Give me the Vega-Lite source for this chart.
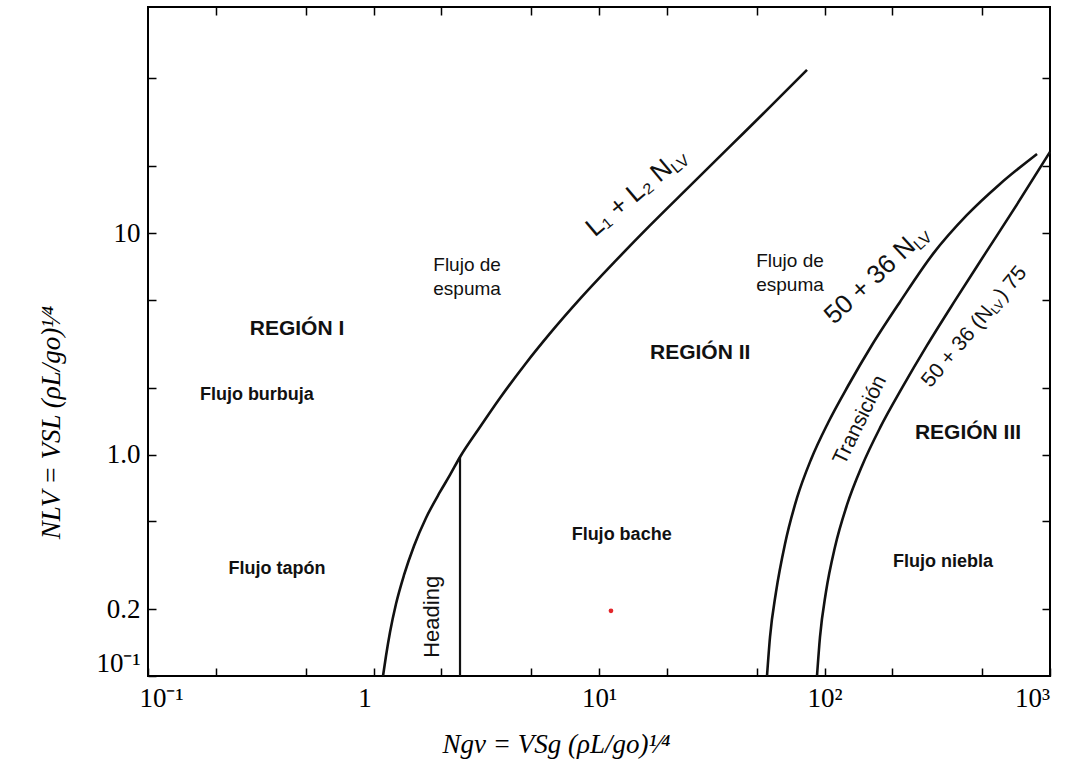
{
  "$schema": "https://vega.github.io/schema/vega-lite/v6.json",
  "width": 902,
  "height": 669,
  "autosize": {"type": "none"},
  "padding": {"left": 148, "top": 7, "right": 25, "bottom": 106},
  "background": "white",
  "config": {
    "view": {"stroke": "black", "strokeWidth": 2},
    "axis": {"domain": false, "grid": false, "tickColor": "black", "tickSize": -8, "tickWidth": 1.5, "labelColor": "black", "titleColor": "black"},
    "text": {"font": "Liberation Sans", "color": "#111"}
  },
  "resolve": {"axis": {"x": "independent", "y": "independent"}},
  "layer": [
    {
      "layer": [
        {
          "data": {"values": [
            {"c": "A", "i": 0, "x": 1.102, "y": 0.1},
            {"c": "A", "i": 1, "x": 1.136, "y": 0.1231},
            {"c": "A", "i": 2, "x": 1.184, "y": 0.158},
            {"c": "A", "i": 3, "x": 1.258, "y": 0.2114},
            {"c": "A", "i": 4, "x": 1.366, "y": 0.2859},
            {"c": "A", "i": 5, "x": 1.512, "y": 0.3866},
            {"c": "A", "i": 6, "x": 1.709, "y": 0.5171},
            {"c": "A", "i": 7, "x": 1.972, "y": 0.6777},
            {"c": "A", "i": 8, "x": 2.184, "y": 0.8089},
            {"c": "A", "i": 9, "x": 2.419, "y": 0.975},
            {"c": "A", "i": 10, "x": 2.967, "y": 1.332},
            {"c": "A", "i": 11, "x": 3.639, "y": 1.801},
            {"c": "A", "i": 12, "x": 4.697, "y": 2.553},
            {"c": "A", "i": 13, "x": 6.063, "y": 3.524},
            {"c": "A", "i": 14, "x": 8.236, "y": 5.045},
            {"c": "A", "i": 15, "x": 11.78, "y": 7.452},
            {"c": "A", "i": 16, "x": 16.84, "y": 10.83},
            {"c": "A", "i": 17, "x": 25.32, "y": 16.34},
            {"c": "A", "i": 18, "x": 38.10, "y": 24.64},
            {"c": "A", "i": 19, "x": 57.33, "y": 37.15},
            {"c": "A", "i": 20, "x": 83.64, "y": 54.6},
            {"c": "B", "i": 0, "x": 55.59, "y": 0.1},
            {"c": "B", "i": 1, "x": 57.33, "y": 0.150},
            {"c": "B", "i": 2, "x": 60.95, "y": 0.2395},
            {"c": "B", "i": 3, "x": 66.80, "y": 0.3947},
            {"c": "B", "i": 4, "x": 75.51, "y": 0.6368},
            {"c": "B", "i": 5, "x": 87.13, "y": 0.9504},
            {"c": "B", "i": 6, "x": 103.6, "y": 1.389},
            {"c": "B", "i": 7, "x": 127.1, "y": 2.040},
            {"c": "B", "i": 8, "x": 162.4, "y": 3.126},
            {"c": "B", "i": 9, "x": 216.1, "y": 4.891},
            {"c": "B", "i": 10, "x": 302.8, "y": 8.057},
            {"c": "B", "i": 11, "x": 428.5, "y": 12.08},
            {"c": "B", "i": 12, "x": 600.2, "y": 16.68},
            {"c": "B", "i": 13, "x": 875.9, "y": 22.79},
            {"c": "C", "i": 0, "x": 92.62, "y": 0.1},
            {"c": "C", "i": 1, "x": 95.50, "y": 0.150},
            {"c": "C", "i": 2, "x": 101.5, "y": 0.2395},
            {"c": "C", "i": 3, "x": 111.3, "y": 0.3826},
            {"c": "C", "i": 4, "x": 125.8, "y": 0.5922},
            {"c": "C", "i": 5, "x": 146.6, "y": 0.8883},
            {"c": "C", "i": 6, "x": 176.2, "y": 1.319},
            {"c": "C", "i": 7, "x": 220.7, "y": 1.999},
            {"c": "C", "i": 8, "x": 284.8, "y": 3.111},
            {"c": "C", "i": 9, "x": 379.0, "y": 4.956},
            {"c": "C", "i": 10, "x": 515.0, "y": 8.057},
            {"c": "C", "i": 11, "x": 714.1, "y": 13.48},
            {"c": "C", "i": 12, "x": 1000, "y": 23.27}
          ]},
          "mark": {"type": "line", "color": "#111", "strokeWidth": 2.6, "interpolate": "monotone"},
          "encoding": {
            "x": {"field": "x", "type": "quantitative", "scale": {"type": "log", "domain": [0.1, 1000], "nice": false},
              "axis": {
                "orient": "bottom",
                "values": [0.1, 0.2, 0.5, 1, 2, 5, 10, 20, 50, 100, 200, 500, 1000],
                "labelExpr": "datum.value == 0.1 ? '10⁻¹' : datum.value == 1 ? '1' : datum.value == 10 ? '10¹' : datum.value == 100 ? '10²' : datum.value == 1000 ? '10³' : ''",
                "labelOverlap": false,
                "labelFlush": false,
                "labelFont": "Liberation Serif",
                "labelFontSize": 27,
                "labelPadding": 17,
                "labelOffset": {"condition": [{"test": "datum.value == 0.1", "value": 13}, {"test": "datum.value == 1", "value": -9}, {"test": "datum.value == 1000", "value": -18}], "value": 0},
                "title": "Ngv  =  VSg (ρL/go)¹⁄⁴",
                "titleFont": "Liberation Serif",
                "titleFontStyle": "italic",
                "titleFontWeight": "normal",
                "titleFontSize": 27,
                "titlePadding": 20,
                "titleX": 408
              }
            },
            "y": {"field": "y", "type": "quantitative", "scale": {"type": "log", "domain": [0.1, 105], "nice": false},
              "axis": {
                "orient": "left",
                "values": [0.1, 0.2, 0.5, 1, 2, 5, 10, 20, 50],
                "labelExpr": "datum.value == 0.1 ? '10⁻¹' : datum.value == 0.2 ? '0.2' : datum.value == 1 ? '1.0' : datum.value == 10 ? '10' : ''",
                "labelOverlap": false,
                "labelFont": "Liberation Serif",
                "labelFontSize": 27,
                "labelPadding": 16,
                "labelOffset": {"condition": {"test": "datum.value == 0.1", "value": -13}, "value": 0},
                "title": "NLV  =  VSL (ρL/go)¹⁄⁴",
                "titleFont": "Liberation Serif",
                "titleFontStyle": "italic",
                "titleFontWeight": "normal",
                "titleFontSize": 27,
                "titlePadding": 30,
                "titleY": 415
              }
            },
            "detail": {"field": "c"},
            "order": {"field": "i", "type": "quantitative"}
          }
        },
        {
          "data": {"values": [{"x": 2.419, "y": 0.1, "y2": 0.975}]},
          "mark": {"type": "rule", "color": "#111", "strokeWidth": 2.2},
          "encoding": {
            "x": {"field": "x", "type": "quantitative"},
            "y": {"field": "y", "type": "quantitative"},
            "y2": {"field": "y2"}
          }
        },
        {
          "data": {"values": [
            {"t": "REGIÓN I", "x": 0.458, "y": 3.69},
            {"t": "REGIÓN II", "x": 28.1, "y": 2.88},
            {"t": "REGIÓN III", "x": 433, "y": 1.25}
          ]},
          "mark": {"type": "text", "fontSize": 21, "fontWeight": "bold", "baseline": "middle", "align": "center"},
          "encoding": {
            "x": {"field": "x", "type": "quantitative"},
            "y": {"field": "y", "type": "quantitative"},
            "text": {"field": "t"}
          }
        },
        {
          "data": {"values": [
            {"t": "Flujo burbuja", "x": 0.304, "y": 1.86},
            {"t": "Flujo tapón", "x": 0.373, "y": 0.304},
            {"t": "Flujo bache", "x": 12.6, "y": 0.434},
            {"t": "Flujo niebla", "x": 335, "y": 0.327}
          ]},
          "mark": {"type": "text", "fontSize": 18, "fontWeight": "bold", "baseline": "middle", "align": "center"},
          "encoding": {
            "x": {"field": "x", "type": "quantitative"},
            "y": {"field": "y", "type": "quantitative"},
            "text": {"field": "t"}
          }
        },
        {
          "data": {"values": [
            {"t": "Flujo de\nespuma", "x": 2.60, "y": 7.18},
            {"t": "Flujo de\nespuma", "x": 70.3, "y": 7.48}
          ]},
          "mark": {"type": "text", "fontSize": 19, "lineBreak": "\n", "lineHeight": 24, "baseline": "middle", "align": "center"},
          "encoding": {
            "x": {"field": "x", "type": "quantitative"},
            "y": {"field": "y", "type": "quantitative"},
            "text": {"field": "t"}
          }
        },
        {
          "data": {"values": [{"t": "Heading", "x": 1.82, "y": 0.185}]},
          "mark": {"type": "text", "fontSize": 22, "angle": -90, "baseline": "middle", "align": "center"},
          "encoding": {
            "x": {"field": "x", "type": "quantitative"},
            "y": {"field": "y", "type": "quantitative"},
            "text": {"field": "t"}
          }
        },
        {
          "data": {"values": [{"t": "Transición", "x": 144, "y": 1.43}]},
          "mark": {"type": "text", "fontSize": 21, "angle": -64, "baseline": "middle", "align": "center"},
          "encoding": {
            "x": {"field": "x", "type": "quantitative"},
            "y": {"field": "y", "type": "quantitative"},
            "text": {"field": "t"}
          }
        },
        {
          "data": {"values": [{"t": "L₁ + L₂ N", "x": 21.51, "y": 19.1}]},
          "mark": {"type": "text", "fontSize": 26, "angle": -40, "align": "right", "baseline": "alphabetic"},
          "encoding": {
            "x": {"field": "x", "type": "quantitative"},
            "y": {"field": "y", "type": "quantitative"},
            "text": {"field": "t"}
          }
        },
        {
          "data": {"values": [{"t": "LV", "x": 21.51, "y": 19.1}]},
          "mark": {"type": "text", "fontSize": 16, "angle": -40, "align": "left", "baseline": "alphabetic", "dy": 4},
          "encoding": {
            "x": {"field": "x", "type": "quantitative"},
            "y": {"field": "y", "type": "quantitative"},
            "text": {"field": "t"}
          }
        },
        {
          "data": {"values": [{"t": "50 + 36 N", "x": 257, "y": 8.57}]},
          "mark": {"type": "text", "fontSize": 26, "angle": -43, "align": "right", "baseline": "alphabetic"},
          "encoding": {
            "x": {"field": "x", "type": "quantitative"},
            "y": {"field": "y", "type": "quantitative"},
            "text": {"field": "t"}
          }
        },
        {
          "data": {"values": [{"t": "LV", "x": 257, "y": 8.57}]},
          "mark": {"type": "text", "fontSize": 16, "angle": -43, "align": "left", "baseline": "alphabetic", "dy": 4},
          "encoding": {
            "x": {"field": "x", "type": "quantitative"},
            "y": {"field": "y", "type": "quantitative"},
            "text": {"field": "t"}
          }
        },
        {
          "data": {"values": [{"t": "50 + 36 (N", "x": 564.7, "y": 4.36}]},
          "mark": {"type": "text", "fontSize": 21, "angle": -50, "align": "right", "baseline": "alphabetic"},
          "encoding": {
            "x": {"field": "x", "type": "quantitative"},
            "y": {"field": "y", "type": "quantitative"},
            "text": {"field": "t"}
          }
        },
        {
          "data": {"values": [{"t": "LV", "x": 564.7, "y": 4.36}]},
          "mark": {"type": "text", "fontSize": 12, "angle": -50, "align": "left", "baseline": "alphabetic", "dy": 3},
          "encoding": {
            "x": {"field": "x", "type": "quantitative"},
            "y": {"field": "y", "type": "quantitative"},
            "text": {"field": "t"}
          }
        },
        {
          "data": {"values": [{"t": ") 75", "x": 564.7, "y": 4.36}]},
          "mark": {"type": "text", "fontSize": 21, "angle": -50, "align": "left", "baseline": "alphabetic", "dx": 16},
          "encoding": {
            "x": {"field": "x", "type": "quantitative"},
            "y": {"field": "y", "type": "quantitative"},
            "text": {"field": "t"}
          }
        }
      ]
    },
    {
      "data": {"values": [{"x": 11.3, "y": 0.197}]},
      "mark": {"type": "point", "filled": true, "color": "#e3262a", "size": 22, "opacity": 1},
      "encoding": {
        "x": {"field": "x", "type": "quantitative", "scale": {"type": "log", "domain": [0.1, 1000], "nice": false},
          "axis": {"orient": "top", "values": [0.2, 0.5, 1, 2, 5, 10, 20, 50, 100, 200, 500], "labels": false, "title": null}},
        "y": {"field": "y", "type": "quantitative", "scale": {"type": "log", "domain": [0.1, 105], "nice": false},
          "axis": {"orient": "right", "values": [0.2, 0.5, 1, 2, 5, 10, 20, 50], "labels": false, "title": null}}
      }
    }
  ]
}
